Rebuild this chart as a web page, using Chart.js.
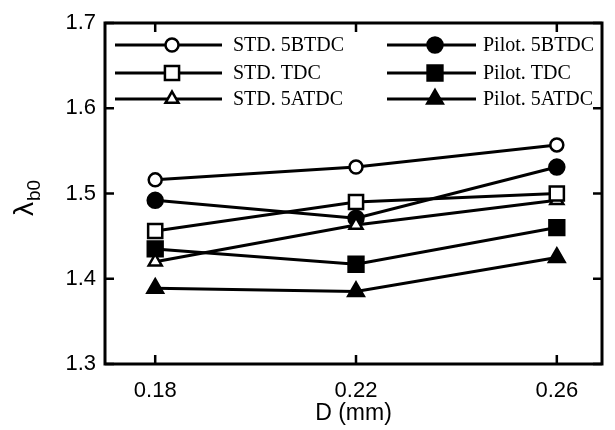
<!DOCTYPE html>
<html><head><meta charset="utf-8">
<script src="https://cdn.jsdelivr.net/npm/chart.js@4/dist/chart.umd.min.js"></script>
<style>html,body{margin:0;padding:0;background:#fff}#wrap{width:615px;height:430px}</style>
</head><body><div id="wrap"><canvas id="c" width="615" height="430"></canvas></div>
<script>
// ---- data ----
const xValues = [0.18, 0.22, 0.26];
const xTicks = [0.18, 0.22, 0.26];
const yTicks = [1.3, 1.4, 1.5, 1.6, 1.7];
const seriesNames = ['STD. 5BTDC', 'STD. TDC', 'STD. 5ATDC', 'Pilot. 5BTDC', 'Pilot. TDC', 'Pilot. 5ATDC'];
const std5BTDC   = [1.516, 1.531, 1.557];
const stdTDC     = [1.456, 1.490, 1.500];
const std5ATDC   = [1.420, 1.463, 1.492];
const pilot5BTDC = [1.492, 1.471, 1.531];
const pilotTDC   = [1.435, 1.417, 1.460];
const pilot5ATDC = [1.389, 1.385, 1.425];
const xTitle = 'D (mm)';
const yTitleMain = 'λ';
const yTitleSub = 'b0';

const seriesValues = [std5BTDC, stdTDC, std5ATDC, pilot5BTDC, pilotTDC, pilot5ATDC];
const styles = [
  {pointStyle: 'circle', fill: '#fff', r: 6.5},
  {pointStyle: 'rect', fill: '#fff', r: 10},
  {pointStyle: 'triangle', fill: '#fff', r: 7.5},
  {pointStyle: 'circle', fill: '#000', r: 7.5},
  {pointStyle: 'rect', fill: '#000', r: 10.5},
  {pointStyle: 'triangle', fill: '#000', r: 9}
];

const datasets = seriesNames.map((name, i) => ({
  label: name,
  data: xValues.map((x, j) => ({x: x, y: seriesValues[i][j]})),
  borderColor: '#000',
  borderWidth: 3,
  backgroundColor: styles[i].fill,
  pointStyle: styles[i].pointStyle,
  pointRadius: styles[i].r,
  pointHoverRadius: styles[i].r,
  pointBackgroundColor: styles[i].fill,
  pointBorderColor: '#000',
  pointBorderWidth: 2.5,
  tension: 0,
  fill: false
}));

const framePlugin = {
  id: 'frame',
  beforeDatasetsDraw(chart) {
    const {ctx, chartArea: a, scales} = chart;
    ctx.save();
    ctx.strokeStyle = '#000';
    ctx.lineWidth = 3;
    ctx.strokeRect(a.left, a.top, a.right - a.left, a.bottom - a.top);
    ctx.lineWidth = 2.5;
    const tl = 9;
    scales.x.ticks.forEach(t => {
      const px = scales.x.getPixelForValue(t.value);
      ctx.beginPath();
      ctx.moveTo(px, a.bottom); ctx.lineTo(px, a.bottom - tl);
      ctx.moveTo(px, a.top); ctx.lineTo(px, a.top + tl);
      ctx.stroke();
    });
    scales.y.ticks.forEach(t => {
      const py = scales.y.getPixelForValue(t.value);
      ctx.beginPath();
      ctx.moveTo(a.left, py); ctx.lineTo(a.left + tl, py);
      ctx.moveTo(a.right, py); ctx.lineTo(a.right - tl, py);
      ctx.stroke();
    });
    ctx.restore();
  }
};

const legendPlugin = {
  id: 'customLegend',
  afterDraw(chart) {
    const {ctx} = chart;
    const cols = [
      {x0: 115, x1: 222, xm: 172, xt: 233},
      {x0: 387, x1: 476, xm: 435, xt: 483}
    ];
    const rows = [45, 73, 99];
    ctx.save();
    chart.data.datasets.forEach((ds, i) => {
      const c = cols[Math.floor(i / 3)];
      const y = rows[i % 3];
      ctx.strokeStyle = '#000';
      ctx.lineWidth = 3;
      ctx.beginPath(); ctx.moveTo(c.x0, y); ctx.lineTo(c.x1, y); ctx.stroke();
      ctx.fillStyle = ds.pointBackgroundColor;
      ctx.strokeStyle = '#000';
      ctx.lineWidth = 2.5;
      Chart.helpers.drawPoint(ctx, {pointStyle: ds.pointStyle, radius: ds.pointRadius, borderWidth: 2.5, rotation: 0}, c.xm, y);
      ctx.fillStyle = '#000';
      ctx.font = '20px "Liberation Serif", "Times New Roman", serif';
      ctx.textBaseline = 'middle';
      ctx.textAlign = 'left';
      ctx.fillText(ds.label, c.xt, y + 1);
    });
    // y title
    ctx.translate(33, 216);
    ctx.rotate(-Math.PI / 2);
    ctx.textBaseline = 'alphabetic';
    ctx.textAlign = 'left';
    ctx.font = '28px "Liberation Sans", Arial, sans-serif';
    ctx.fillText(yTitleMain, 0, 0);
    const w = ctx.measureText(yTitleMain).width;
    ctx.font = '19px "Liberation Sans", Arial, sans-serif';
    ctx.fillText(yTitleSub, w + 1, 7);
    ctx.restore();
  }
};

new Chart(document.getElementById('c'), {
  type: 'line',
  data: {datasets: datasets},
  options: {
    responsive: false,
    animation: false,
    devicePixelRatio: 1,
    layout: {padding: {top: 23, right: 2, left: 0, bottom: 0}},
    plugins: {legend: {display: false}, tooltip: {enabled: false}},
    scales: {
      x: {
        type: 'linear', min: 0.17, max: 0.269,
        afterBuildTicks: s => { s.ticks = xTicks.map(v => ({value: v})); },
        afterFit: s => { s.height = 66; },
        grid: {display: false, drawTicks: false},
        border: {display: false},
        ticks: {color: '#000', padding: 14, font: {family: '"Liberation Sans", Arial, sans-serif', size: 22}, callback: v => v.toFixed(2)},
        title: {display: true, text: xTitle, color: '#000', font: {family: '"Liberation Sans", Arial, sans-serif', size: 23}, padding: {top: 0, bottom: 3}}
      },
      y: {
        type: 'linear', min: 1.3, max: 1.7,
        afterBuildTicks: s => { s.ticks = yTicks.map(v => ({value: v})); },
        afterFit: s => { s.width = 105; },
        grid: {display: false, drawTicks: false},
        border: {display: false},
        ticks: {color: '#000', padding: 9, font: {family: '"Liberation Sans", Arial, sans-serif', size: 22}, callback: v => v.toFixed(1)}
      }
    }
  },
  plugins: [framePlugin, legendPlugin]
});
</script>
</body></html>
